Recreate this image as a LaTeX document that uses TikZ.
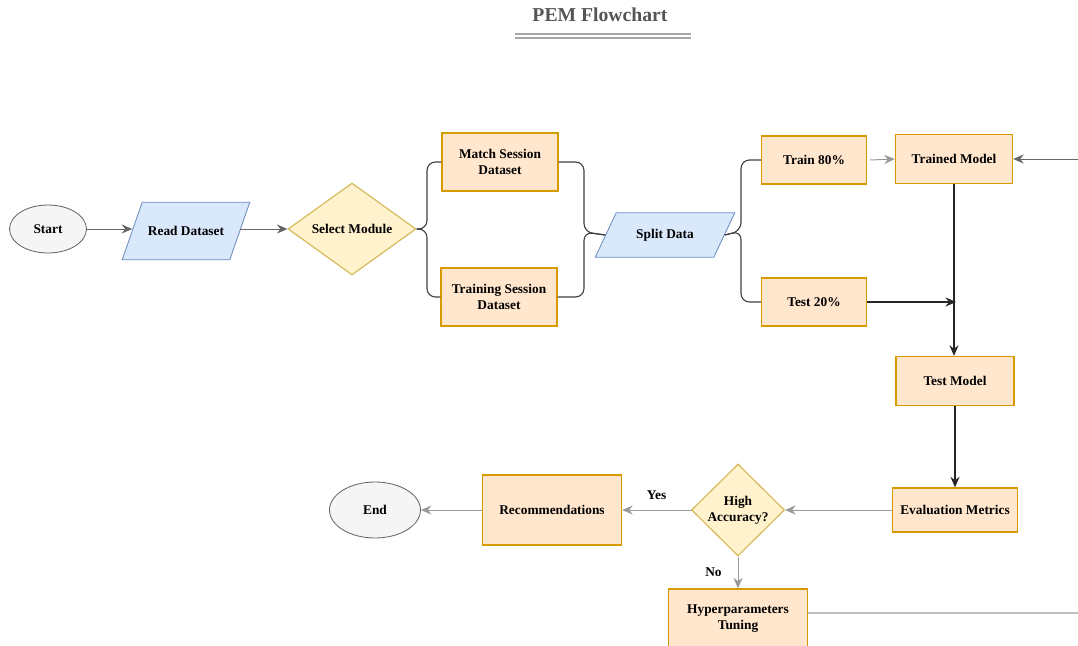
\documentclass[tikz,border=0pt]{standalone}
\usepackage{fontspec}
\setmainfont{Liberation Serif}
\usetikzlibrary{shapes.geometric,arrows.meta,backgrounds}
\definecolor{gfill}{HTML}{F5F5F5}
\definecolor{gdraw}{HTML}{666666}
\definecolor{bfill}{HTML}{DAE8FC}
\definecolor{bdraw}{HTML}{6C8EBF}
\definecolor{yfill}{HTML}{FFF2CC}
\definecolor{ydraw}{HTML}{D6B656}
\definecolor{ofill}{HTML}{FFE6CC}
\definecolor{odraw}{HTML}{D79B00}
\definecolor{lgray}{HTML}{C0C0C0}
\definecolor{tgray}{HTML}{555555}
\begin{document}
\begin{tikzpicture}[x=0.025cm,y=-0.025cm,
  txt/.style={font=\fontsize{9.5}{11.5}\selectfont\bfseries, text=black},
  term/.style={txt, ellipse, draw=gdraw, fill=gfill, line width=0.6pt},
  io/.style={txt, rectangle, inner sep=1pt},
  iobox/.style={draw=bdraw, fill=bfill, line width=0.6pt},
  dec/.style={txt, diamond, draw=ydraw, fill=yfill, line width=0.8pt, inner sep=0pt, align=center},
  proc/.style={txt, rectangle, draw=odraw, fill=ofill, line width=1pt, align=center},
  garrow/.style={draw=gdraw, line width=0.7pt, -{Stealth[length=7.5pt,width=6.5pt,inset=2.5pt]}},
  karrow/.style={draw=black!85, line width=0.75pt, -{Stealth[length=7.5pt,width=6.5pt,inset=2.5pt]}},
  brace/.style={draw=black!75, line width=0.8pt, rounded corners=6pt},
  lbl/.style={txt}
]
\useasboundingbox (0,0) rectangle (1078,645);
\clip (0,0) rectangle (1078,645);

% title
\node[font=\fontsize{14}{16}\selectfont\bfseries, text=tgray] (title) at (600,15) {PEM Flowchart};
\draw[gray!70, line width=0.8pt] (515,34) -- (691,34);
\draw[gray!70, line width=0.8pt] (515,38) -- (691,38);

% nodes
\node[term, minimum width=77*0.025cm, minimum height=48*0.025cm] (start) at (48,229) {Start};
\node[io, minimum width=127*0.025cm, minimum height=57*0.025cm] (read) at (186,231) {Read Dataset};
\node[dec, minimum width=128*0.025cm, minimum height=92*0.025cm] (sel) at (352,229) {Select Module};
\node[proc, minimum width=116*0.025cm, minimum height=58*0.025cm] (match) at (500,162) {Match Session\\Dataset};
\node[proc, minimum width=116*0.025cm, minimum height=58*0.025cm] (trainsess) at (499,297) {Training Session\\Dataset};
\node[io, minimum width=139*0.025cm, minimum height=44*0.025cm] (split) at (665,235) {Split Data};
\node[proc, minimum width=105*0.025cm, minimum height=48*0.025cm] (train) at (814,160) {Train 80\%};
\node[proc, minimum width=105*0.025cm, minimum height=48*0.025cm] (test) at (814,302) {Test 20\%};
\node[proc, minimum width=117*0.025cm, minimum height=49*0.025cm] (trained) at (954,159) {Trained Model};
\node[proc, minimum width=118*0.025cm, minimum height=49*0.025cm] (testm) at (955,381) {Test Model};
\node[proc, minimum width=125*0.025cm, minimum height=44*0.025cm] (eval) at (955,510) {Evaluation Metrics};
\node[dec, minimum width=93*0.025cm, minimum height=92*0.025cm] (high) at (738,510) {High\\Accuracy?};
\node[proc, minimum width=139*0.025cm, minimum height=70*0.025cm] (rec) at (552,510) {Recommendations};
\node[term, minimum width=91*0.025cm, minimum height=56*0.025cm] (end) at (375,510) {End};
\node[proc, minimum width=139*0.025cm, minimum height=60*0.025cm] (hyper) at (738,619) {Hyperparameters\\Tuning};

% parallelogram outlines
\begin{scope}[on background layer]
\path[iobox] ([xshift=20*0.025cm]read.north west) -- (read.north east) -- ([xshift=-20*0.025cm]read.south east) -- (read.south west) -- cycle;
\path[iobox] ([xshift=21*0.025cm]split.north west) -- (split.north east) -- ([xshift=-21*0.025cm]split.south east) -- (split.south west) -- cycle;
\end{scope}

\coordinate (rin) at (1078,159);
\coordinate (hout) at (1078,613);
\coordinate (bl) at (427,229);
\coordinate (br) at (584,232);
\coordinate (bs) at (741,231);

% connectors
\draw[garrow] (start) -- ([xshift=10*0.025cm]read.west |- start.east);
\draw[garrow] ([xshift=-10*0.025cm]read.east |- sel.west) -- (sel.west);
% left brace
\draw[brace] (sel.east) -- (bl) -- (bl |- match.west) -- (match.west);
\draw[brace] (sel.east) -- (bl) -- (bl |- trainsess.west) -- (trainsess.west);
% right brace
\draw[brace] (match.east) -- (br |- match.east) -- (br) -- ([xshift=10*0.025cm]split.west);
\draw[brace] (trainsess.east) -- (br |- trainsess.east) -- (br) -- ([xshift=10*0.025cm]split.west);
% split brace
\draw[brace] ([xshift=-10*0.025cm]split.east) -- (bs) -- (bs |- train.west) -- (train.west);
\draw[brace] ([xshift=-10*0.025cm]split.east) -- (bs) -- (bs |- test.west) -- (test.west);

\draw[garrow, draw=gray!80] ([xshift=3*0.025cm]train.east) -- (trained.west);
\draw[garrow] (rin) -- (trained.east);
\draw[karrow] (trained.south) -- (trained.south |- testm.north);
\draw[karrow] (test.east) -- ([xshift=2*0.025cm]trained.south |- test.east);
\draw[karrow] (testm) -- (eval);
\draw[garrow, draw=gray!80] (eval) -- (high);
\draw[garrow, draw=gray!80] (high) -- node[lbl, above=4pt] {Yes} (rec);
\draw[garrow, draw=gray!80] (rec) -- (end);
\draw[garrow, draw=gray!80] (high) -- node[lbl, left=8pt] {No} (hyper);
\draw[lgray, line width=1pt] (hyper.east |- hout) -- (hout);
\end{tikzpicture}
\end{document}
